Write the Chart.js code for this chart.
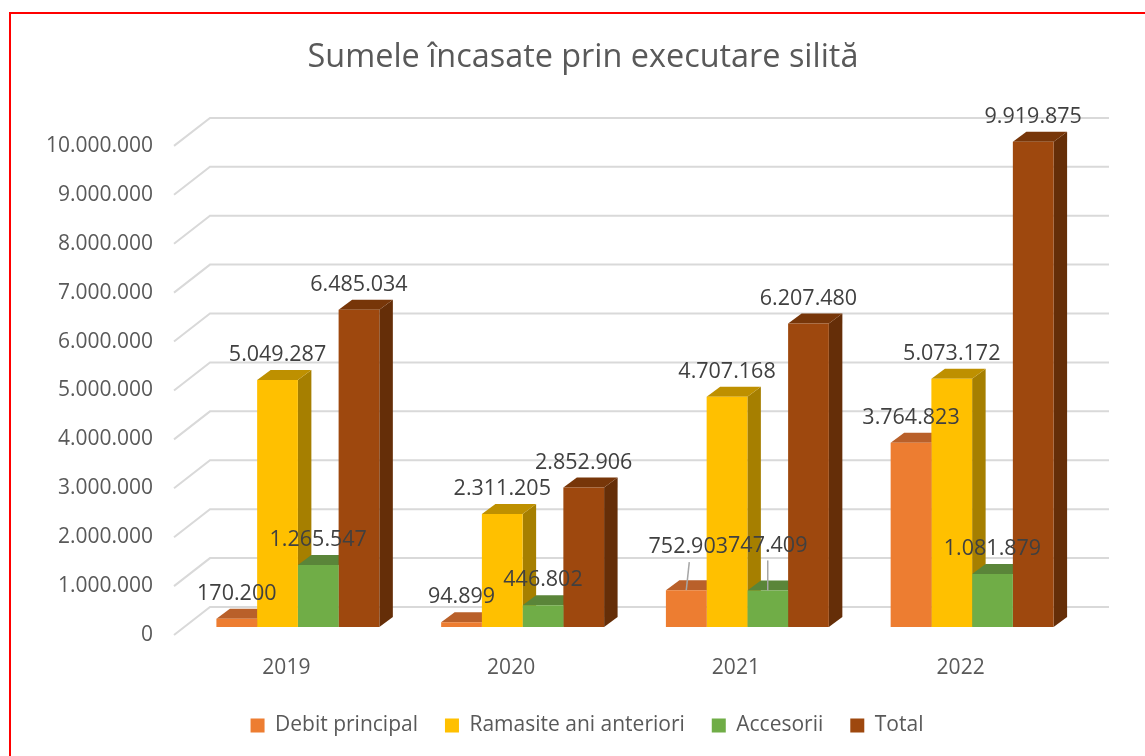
<!DOCTYPE html>
<html>
<head>
<meta charset="utf-8">
<title>Sumele încasate prin executare silită</title>
<script src="https://cdn.jsdelivr.net/npm/chart.js@4"></script>
<style>
    html, body { margin: 0; padding: 0; background: #fff; overflow: hidden; }
    #frame { position: absolute; left: 9px; top: 12px; right: 0; bottom: 0; border-left: 2px solid #f00; border-top: 2px solid #f00; }
    #wrap { position: absolute; left: 0; top: 0; width: 1145px; height: 756px; }
</style>
</head>
<body>
<div id="frame"></div>
<div id="wrap"><canvas id="chart"></canvas></div>
<script>
const years = ['2019', '2020', '2021', '2022'];
const debitPrincipal = [170200, 94899, 752903, 3764823];
const ramasite = [5049287, 2311205, 4707168, 5073172];
const accesorii = [1265547, 446802, 747409, 1081879];
const total = [6485034, 2852906, 6207480, 9919875];

const FONT = '"Open Sans", sans-serif';

// bars sit in the middle of the floor, the axis labels on its front edge
const BAR_SHIFT = { x: 11.5, y: -8 };
const BAR_DEPTH = { x: 13.5, y: -10 };
const WALL_SHIFT = { x: 36, y: -28 };

// darker faces of each series: [side, top]
const faces = [
    ['#A65722', '#B9602A'],
    ['#A67F00', '#BE9000'],
    ['#4F7A33', '#5A8539'],
    ['#652E08', '#773609']
];

// labels Excel pulled up with a leader line: series index -> year index -> extra lift
const lifted = { 0: { 2: 18 }, 2: { 2: 20 } };

function polygon(ctx, color, pts) {
    ctx.fillStyle = color;
    ctx.beginPath();
    pts.forEach((p, i) => i ? ctx.lineTo(p[0], p[1]) : ctx.moveTo(p[0], p[1]));
    ctx.closePath();
    ctx.fill();
}

const wallGrid = {
    id: 'wallGrid',
    beforeDatasetsDraw(chart) {
        const { ctx, chartArea, scales } = chart;
        ctx.save();
        ctx.strokeStyle = '#D9D9D9';
        ctx.lineWidth = 2;
        scales.y.ticks.forEach(tick => {
            const y = scales.y.getPixelForValue(tick.value);
            ctx.beginPath();
            ctx.moveTo(chartArea.left, y);
            ctx.lineTo(chartArea.left + WALL_SHIFT.x, y + WALL_SHIFT.y);
            ctx.lineTo(chartArea.right + WALL_SHIFT.x, y + WALL_SHIFT.y);
            ctx.stroke();
        });
        ctx.restore();
    }
};

const bars3d = {
    id: 'bars3d',
    beforeDatasetsDraw(chart) {
        const { ctx } = chart;
        ctx.save();
        ctx.translate(BAR_SHIFT.x, BAR_SHIFT.y);
        // sides and tops go first, left to right, the flat fronts are drawn over them
        years.forEach((year, yi) => {
            chart.data.datasets.forEach((ds, si) => {
                const bar = chart.getDatasetMeta(si).data[yi];
                const l = bar.x - bar.width / 2;
                const r = bar.x + bar.width / 2;
                const dx = BAR_DEPTH.x;
                const dy = BAR_DEPTH.y;
                polygon(ctx, faces[si][0], [[r, bar.y], [r + dx, bar.y + dy], [r + dx, bar.base + dy], [r, bar.base]]);
                polygon(ctx, faces[si][1], [[l, bar.y], [l + dx, bar.y + dy], [r + dx, bar.y + dy], [r, bar.y]]);
            });
        });
    },
    afterDatasetsDraw(chart) {
        chart.ctx.restore();
    }
};

const valueLabels = {
    id: 'valueLabels',
    afterDraw(chart) {
        const { ctx } = chart;
        ctx.save();
        ctx.font = '21.5px ' + FONT;
        ctx.textAlign = 'center';
        ctx.textBaseline = 'middle';
        chart.data.datasets.forEach((ds, si) => {
            chart.getDatasetMeta(si).data.forEach((bar, yi) => {
                const x = bar.x + BAR_SHIFT.x;
                const top = bar.y + BAR_SHIFT.y;
                const lift = (lifted[si] && lifted[si][yi]) || 0;
                if (lift) {
                    ctx.strokeStyle = '#A6A6A6';
                    ctx.lineWidth = 1.5;
                    ctx.beginPath();
                    ctx.moveTo(x, top);
                    ctx.lineTo(x + (si === 0 ? 3 : 0), top - lift - 10);
                    ctx.stroke();
                }
                ctx.fillStyle = '#404040';
                ctx.fillText(ds.data[yi].toLocaleString('de-DE'), x + (si === 0 && lift ? 2 : 0), top - 25 - lift);
            });
        });
        ctx.restore();
    }
};

// title and legend are not centred on the same axis as the plot in the original
const shiftBoxes = {
    id: 'shiftBoxes',
    afterLayout(chart) {
        chart.titleBlock.left += 46.5;
        chart.titleBlock.right += 46.5;
        chart.legend.left += 50.5;
        chart.legend.right += 50.5;
    }
};

function barSeries(label, data, color) {
    return { label, data, backgroundColor: color, clip: false, barPercentage: 1, categoryPercentage: 0.725 };
}

new Chart(document.getElementById('chart'), {
    type: 'bar',
    data: {
        labels: years,
        datasets: [
            barSeries('Debit principal', debitPrincipal, '#ED7D31'),
            barSeries('Ramasite ani anteriori', ramasite, '#FFC000'),
            barSeries('Accesorii', accesorii, '#70AD47'),
            barSeries('Total', total, '#9E480E')
        ]
    },
    options: {
        responsive: true,
        maintainAspectRatio: false,
        animation: false,
        layout: { padding: { left: 0, right: 72, top: 38, bottom: 10 } },
        plugins: {
            title: {
                display: true,
                text: 'Sumele încasate prin executare silită',
                color: '#595959',
                font: { family: FONT, size: 32.4, weight: 'normal' },
                padding: { top: 0, bottom: 69 }
            },
            legend: {
                position: 'bottom',
                labels: {
                    color: '#595959',
                    font: { family: FONT, size: 21 },
                    boxWidth: 14,
                    boxHeight: 14,
                    padding: 27
                }
            },
            tooltip: { enabled: false }
        },
        scales: {
            x: {
                afterFit(scale) { scale.height = 53; },
                grid: { display: false },
                border: { display: false },
                ticks: { color: '#595959', font: { family: FONT, size: 21 }, padding: 12 }
            },
            y: {
                min: 0,
                max: 10000000,
                afterFit(scale) { scale.width = 174; },
                grid: { display: false, drawTicks: false },
                border: { display: false },
                ticks: {
                    stepSize: 1000000,
                    color: '#595959',
                    padding: 21,
                    font: { family: FONT, size: 21 },
                    callback: value => value.toLocaleString('de-DE')
                }
            }
        }
    },
    plugins: [shiftBoxes, wallGrid, bars3d, valueLabels]
});
</script>
</body>
</html>
